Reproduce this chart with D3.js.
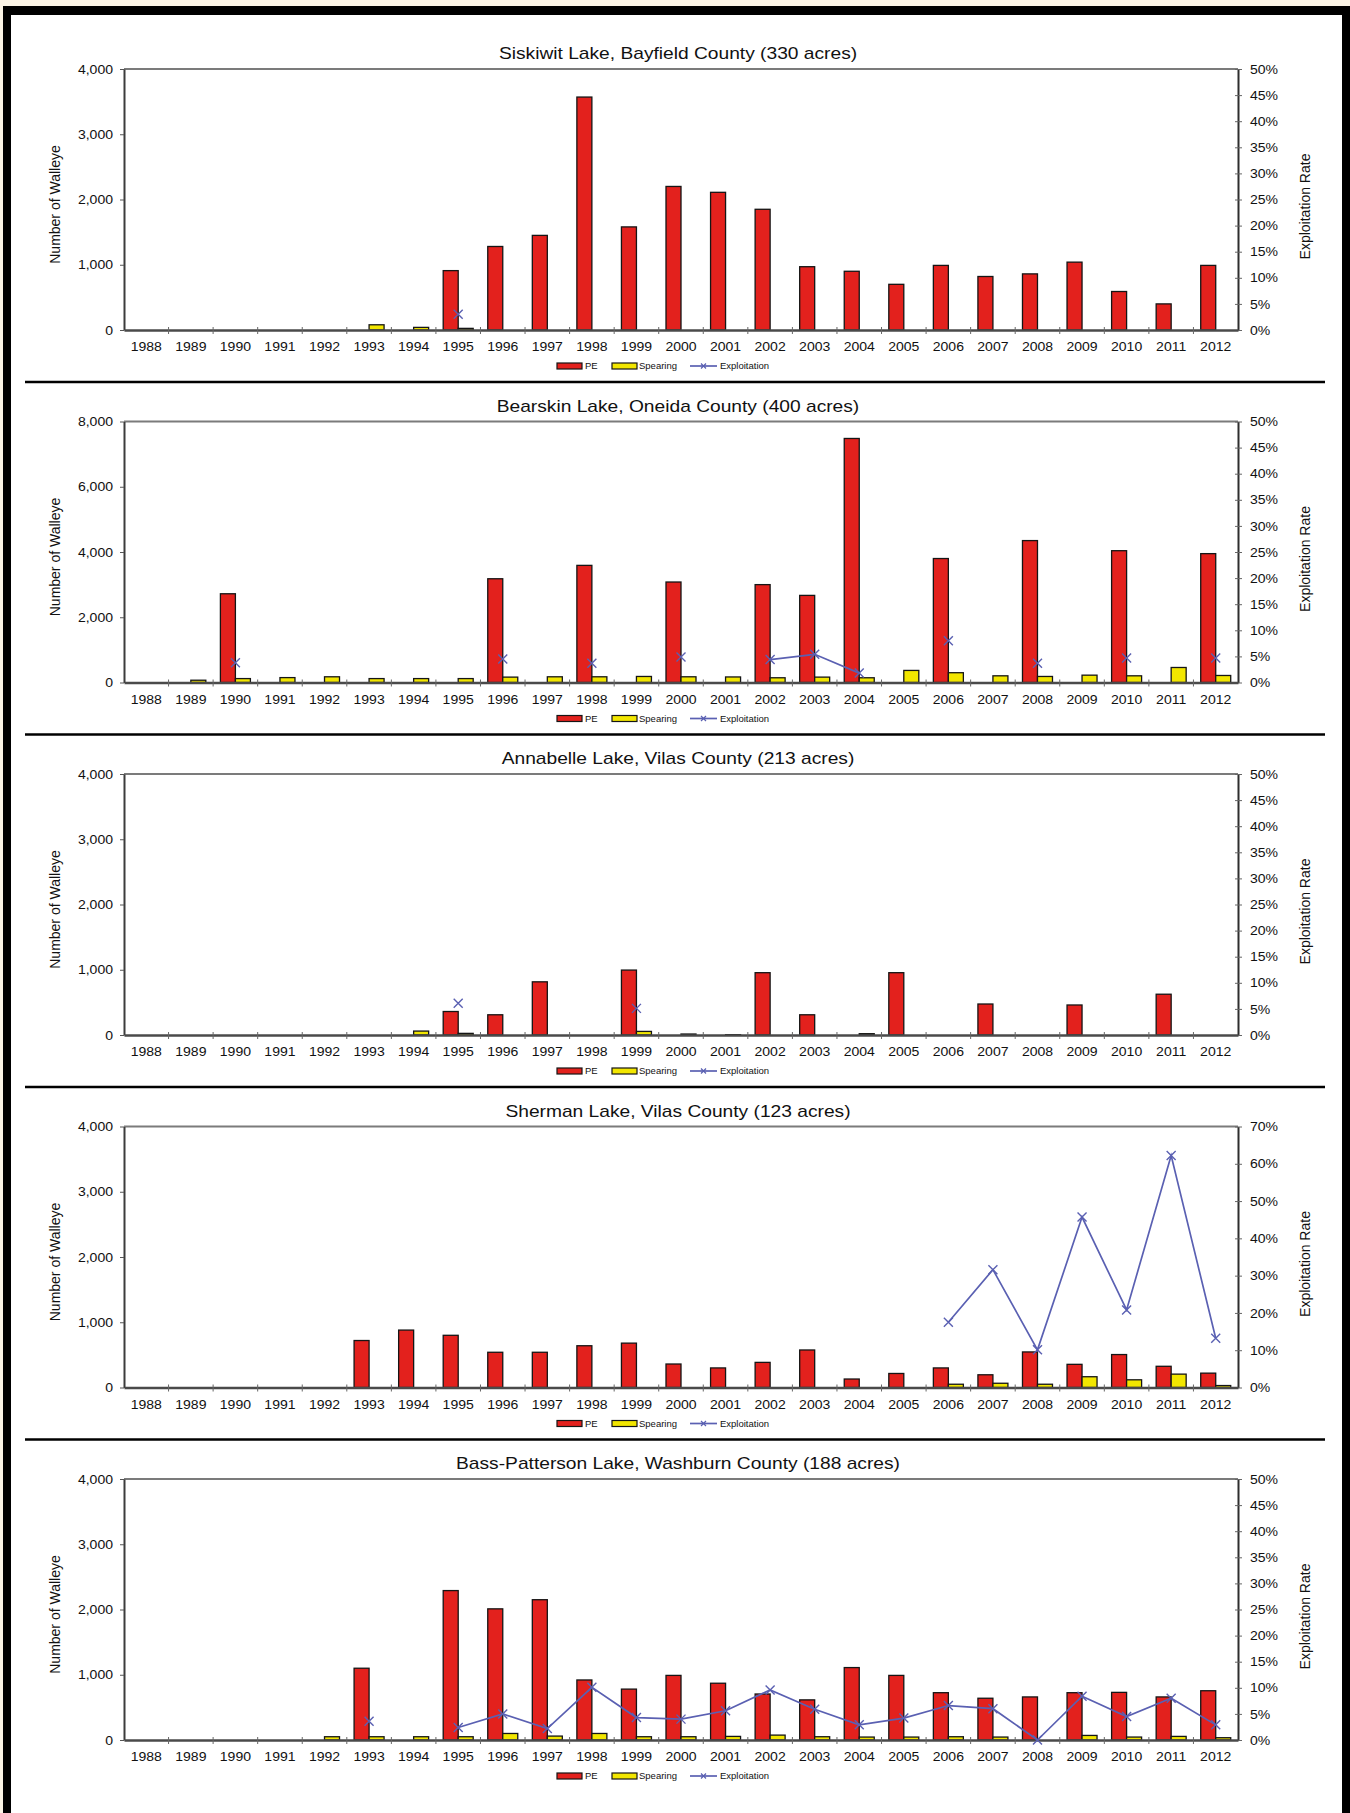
<!DOCTYPE html>
<html>
<head>
<meta charset="utf-8">
<script src="https://cdn.jsdelivr.net/npm/d3@7"></script>
<style>
  html, body { margin: 0; padding: 0; background: #fcf4e6; }
  svg { display: block; }
  text { font-family: "Liberation Sans", Arial, Helvetica, sans-serif; fill: #111; }
</style>
</head>
<body>
<svg id="chart" width="1350" height="1813"></svg>
<script>
// ---- data -------------------------------------------------------------
const years = ["1988","1989","1990","1991","1992","1993","1994","1995","1996","1997","1998","1999",
               "2000","2001","2002","2003","2004","2005","2006","2007","2008","2009","2010","2011","2012"];

const lakeTitles = [
  "Siskiwit Lake, Bayfield County (330 acres)",
  "Bearskin Lake, Oneida County (400 acres)",
  "Annabelle Lake, Vilas County (213 acres)",
  "Sherman Lake, Vilas County (123 acres)",
  "Bass-Patterson Lake, Washburn County (188 acres)"
];

const seriesNames = ["PE", "Spearing", "Exploitation"];

// population estimates (number of walleye), 1988-2012
const siskiwitPE  = [null,null,null,null,null,null,null,910,1280,1450,3570,1580,2200,2110,1850,970,900,700,990,820,860,1040,590,400,990];
const bearskinPE  = [null,null,2720,null,null,null,null,null,3180,null,3590,null,3080,null,3000,2670,7480,null,3800,null,4350,null,4040,null,3950];
const annabellePE = [null,null,null,null,null,null,null,360,310,815,null,995,null,null,955,310,null,955,null,475,null,460,null,625,null];
const shermanPE   = [null,null,null,null,null,720,880,800,540,540,640,680,360,300,385,575,130,215,300,195,545,355,505,325,220];
const bassPE      = [null,null,null,null,null,1100,null,2290,2010,2150,920,780,990,870,705,615,1110,990,725,640,660,725,730,660,755];

// spearing harvest (number of walleye), 1988-2012
const siskiwitSpearing  = [null,null,null,null,null,80,40,25,null,null,null,null,null,null,null,null,null,null,null,null,null,null,null,null,null];
const bearskinSpearing  = [null,70,120,150,175,120,120,120,165,175,175,185,175,170,145,165,145,370,300,205,185,225,205,460,215];
const annabelleSpearing = [null,null,null,null,null,null,60,25,null,null,null,55,15,5,null,null,20,null,null,null,null,null,null,null,null];
const shermanSpearing   = [null,null,null,null,null,null,null,null,null,null,null,null,null,null,null,null,null,null,50,65,50,165,118,205,30];
const bassSpearing      = [null,null,null,null,50,50,50,50,100,60,100,50,50,55,75,50,45,45,50,45,null,70,45,55,35];

// exploitation rate (%), 1988-2012
const siskiwitExploitation  = [null,null,null,null,null,null,null,3.0,null,null,null,null,null,null,null,null,null,null,null,null,null,null,null,null,null];
const bearskinExploitation  = [null,null,3.8,null,null,null,null,null,4.5,null,3.7,null,4.9,null,4.4,5.4,1.8,null,8.0,null,3.7,null,4.7,null,4.7];
const annabelleExploitation = [null,null,null,null,null,null,null,6.1,null,null,null,5.1,null,null,null,null,null,null,null,null,null,null,null,null,null];
const shermanExploitation   = [null,null,null,null,null,null,null,null,null,null,null,null,null,null,null,null,null,null,17.5,31.6,10.1,45.7,20.8,62.2,13.2];
const bassExploitation      = [null,null,null,null,null,3.6,null,2.4,5.0,2.2,10.1,4.3,4.0,5.6,9.6,5.9,2.9,4.2,6.6,6.0,0,8.4,4.5,8.0,2.9];

// axis tick values
const countTicks4000 = [0, 1000, 2000, 3000, 4000];
const countTicks8000 = [0, 2000, 4000, 6000, 8000];
const rateTicks50 = [0, 5, 10, 15, 20, 25, 30, 35, 40, 45, 50];
const rateTicks70 = [0, 10, 20, 30, 40, 50, 60, 70];

const panels = [
  { title: lakeTitles[0], pe: siskiwitPE,  spear: siskiwitSpearing,  expl: siskiwitExploitation,  countTicks: countTicks4000, rateTicks: rateTicks50 },
  { title: lakeTitles[1], pe: bearskinPE,  spear: bearskinSpearing,  expl: bearskinExploitation,  countTicks: countTicks8000, rateTicks: rateTicks50 },
  { title: lakeTitles[2], pe: annabellePE, spear: annabelleSpearing, expl: annabelleExploitation, countTicks: countTicks4000, rateTicks: rateTicks50 },
  { title: lakeTitles[3], pe: shermanPE,   spear: shermanSpearing,   expl: shermanExploitation,   countTicks: countTicks4000, rateTicks: rateTicks70 },
  { title: lakeTitles[4], pe: bassPE,      spear: bassSpearing,      expl: bassExploitation,      countTicks: countTicks4000, rateTicks: rateTicks50 }
];

// ---- layout & style -----------------------------------------------------
const W = 1350, H = 1813;
const plotLeft = 124, plotRight = 1238;
const firstTop = 69, panelStep = 352.5, plotH = 261;
const centerX = 678;
const barW = 15;
const textStretch = 1.08;
const RED = "#e3211d", YELLOW = "#f2e600", BLUE = "#5a60b2";

const svg = d3.select("#chart");

// page frame
svg.append("rect").attr("x", 0).attr("y", 0).attr("width", W).attr("height", H).attr("fill", "#fcf4e6");
svg.append("rect").attr("x", 3).attr("y", 6).attr("width", W - 3).attr("height", H - 6).attr("fill", "#000");
svg.append("rect").attr("x", 11).attr("y", 15).attr("width", 1331).attr("height", H - 15).attr("fill", "#fff");

const markerPath = "M-4.5,-4.5L4.5,4.5M-4.5,4.5L4.5,-4.5";

panels.forEach((p, i) => {
  const top = firstTop + i * panelStep;
  const bottom = top + plotH;
  const g = svg.append("g");

  const x = d3.scaleBand().domain(years).range([plotLeft, plotRight]);
  const y = d3.scaleLinear().domain([0, d3.max(p.countTicks)]).range([bottom, top]);
  const y2 = d3.scaleLinear().domain([0, d3.max(p.rateTicks)]).range([bottom, top]);
  const half = x.bandwidth() / 2;

  // divider line above every panel but the first
  if (i > 0) {
    g.append("line")
      .attr("x1", 25).attr("x2", 1325)
      .attr("y1", top - 39.5).attr("y2", top - 39.5)
      .attr("stroke", "#000").attr("stroke-width", 2.5);
  }

  // title (wide face: stretched horizontally)
  g.append("text")
    .attr("transform", `translate(${centerX},${top - 10}) scale(1.2,1)`)
    .attr("text-anchor", "middle")
    .attr("font-size", 16)
    .text(p.title);

  // plot area top edge
  g.append("line")
    .attr("x1", plotLeft).attr("x2", plotRight)
    .attr("y1", top).attr("y2", top)
    .attr("stroke", "#7b7b7b").attr("stroke-width", 2.2);

  // PE bars
  g.append("g").selectAll("rect")
    .data(years.map((yr, k) => ({ yr, v: p.pe[k] })).filter(d => d.v != null))
    .join("rect")
      .attr("x", d => x(d.yr) + half - barW)
      .attr("y", d => y(d.v))
      .attr("width", barW)
      .attr("height", d => bottom - y(d.v))
      .attr("fill", RED)
      .attr("stroke", "#151515").attr("stroke-width", 1.3);

  // spearing bars
  g.append("g").selectAll("rect")
    .data(years.map((yr, k) => ({ yr, v: p.spear[k] })).filter(d => d.v != null))
    .join("rect")
      .attr("x", d => x(d.yr) + half)
      .attr("y", d => y(d.v))
      .attr("width", barW)
      .attr("height", d => bottom - y(d.v))
      .attr("fill", YELLOW)
      .attr("stroke", "#151515").attr("stroke-width", 1.3);

  // left axis
  const leftAxis = d3.axisLeft(y)
    .tickValues(p.countTicks)
    .tickFormat(d3.format(","))
    .tickSizeInner(4).tickSizeOuter(0).tickPadding(5);
  const la = g.append("g").attr("transform", `translate(${plotLeft},0)`).call(leftAxis);
  la.select(".domain").attr("stroke", "#3c3c3c").attr("stroke-width", 2);
  la.selectAll(".tick line").attr("stroke", "#555");
  la.selectAll(".tick text").attr("font-size", 13).attr("font-family", null).attr("fill", "#111")
    .attr("x", -11 / textStretch).attr("transform", `scale(${textStretch},1)`);

  // right axis (exploitation rate); ticks cross the axis line
  const rightAxis = d3.axisRight(y2)
    .tickValues(p.rateTicks)
    .tickFormat(d => d + "%")
    .tickSizeInner(4).tickSizeOuter(0).tickPadding(5);
  const ra = g.append("g").attr("transform", `translate(${plotRight},0)`).call(rightAxis);
  ra.select(".domain").attr("stroke", "#2e2e2e").attr("stroke-width", 2);
  ra.selectAll(".tick line").attr("x1", -3).attr("stroke", "#666");
  ra.selectAll(".tick text").attr("font-size", 13).attr("font-family", null).attr("fill", "#111")
    .attr("x", 12 / textStretch).attr("transform", `scale(${textStretch},1)`);

  // bottom axis: year labels centred in bands, ticks on band boundaries
  const bottomAxis = d3.axisBottom(x).tickSize(0).tickPadding(12);
  const ba = g.append("g").attr("transform", `translate(0,${bottom})`).call(bottomAxis);
  ba.select(".domain").attr("stroke", "#4a4a4a").attr("stroke-width", 2.4);
  ba.selectAll(".tick text").attr("font-size", 13).attr("font-family", null).attr("fill", "#111")
    .attr("transform", `scale(${textStretch},1)`);
  g.append("g").selectAll("line")
    .data(years.slice(1))
    .join("line")
      .attr("x1", d => x(d)).attr("x2", d => x(d))
      .attr("y1", bottom - 3).attr("y2", bottom + 4)
      .attr("stroke", "#666").attr("stroke-width", 1);

  // axis titles
  g.append("text")
    .attr("transform", `translate(60,${(top + bottom) / 2 + 5}) rotate(-90)`)
    .attr("text-anchor", "middle")
    .attr("font-size", 14)
    .text("Number of Walleye");
  g.append("text")
    .attr("transform", `translate(1310,${(top + bottom) / 2 + 7}) rotate(-90)`)
    .attr("text-anchor", "middle")
    .attr("font-size", 14)
    .text("Exploitation Rate");

  // exploitation line (gaps where no estimate) and markers
  const pts = years.map((yr, k) => ({ yr, v: p.expl[k] }));
  const line = d3.line()
    .defined(d => d.v != null)
    .x(d => x(d.yr) + half)
    .y(d => y2(d.v));
  g.append("path")
    .datum(pts)
    .attr("d", line)
    .attr("fill", "none")
    .attr("stroke", BLUE).attr("stroke-width", 1.7);
  g.append("g").selectAll("path")
    .data(pts.filter(d => d.v != null))
    .join("path")
      .attr("transform", d => `translate(${x(d.yr) + half},${y2(d.v)})`)
      .attr("d", markerPath)
      .attr("fill", "none")
      .attr("stroke", BLUE).attr("stroke-width", 1.4);

  // legend
  const ly = bottom + 36;
  const lg = g.append("g").attr("font-size", 9.5);
  lg.append("rect").attr("x", 557).attr("y", ly - 3).attr("width", 25).attr("height", 6)
    .attr("fill", RED).attr("stroke", "#151515").attr("stroke-width", 1.2);
  lg.append("text").attr("x", 585).attr("y", ly + 3.4).text(seriesNames[0]);
  lg.append("rect").attr("x", 612).attr("y", ly - 3).attr("width", 25).attr("height", 6)
    .attr("fill", YELLOW).attr("stroke", "#151515").attr("stroke-width", 1.2);
  lg.append("text").attr("x", 639).attr("y", ly + 3.4).text(seriesNames[1]);
  lg.append("line").attr("x1", 690).attr("x2", 717).attr("y1", ly).attr("y2", ly)
    .attr("stroke", BLUE).attr("stroke-width", 1.7);
  lg.append("path").attr("transform", `translate(703.5,${ly})`)
    .attr("d", "M-2.5,-2.5L2.5,2.5M-2.5,2.5L2.5,-2.5")
    .attr("stroke", BLUE).attr("stroke-width", 1.2);
  lg.append("text").attr("x", 720).attr("y", ly + 3.4).text(seriesNames[2]);
});
</script>
</body>
</html>
